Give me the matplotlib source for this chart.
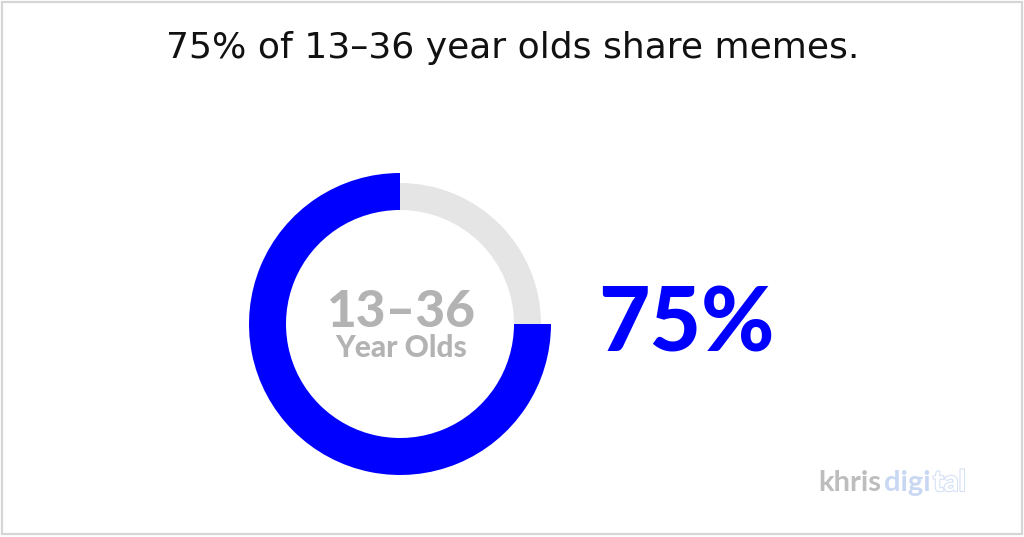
import matplotlib
matplotlib.use("Agg")
import matplotlib.pyplot as plt
import matplotlib.patheffects as pe
from matplotlib.patches import Rectangle

# Data
title = "75% of 13\u201336 year olds share memes."
share_label = "75%"
share_values = [75, 25]
center_line1 = "13\u201336"
center_line2 = "Year Olds"
blue = "#0000FF"
grey_ring = "#E5E5E5"
text_grey = "#B3B3B3"

W, H = 1024, 537
fig = plt.figure(figsize=(W / 100, H / 100), dpi=100)
fig.patch.set_facecolor("white")

# Background axes in pixel coords
bg = fig.add_axes([0, 0, 1, 1])
bg.set_xlim(0, W)
bg.set_ylim(H, 0)
bg.axis("off")
bg.add_patch(Rectangle((2, 2), W - 4, H - 5, fill=False, edgecolor="#D6D6D6", linewidth=1.6))

bg.text(513, 48, title, ha="center", va="center", fontsize=26,
        family="DejaVu Sans", color="#111111")

bg.text(598, 326, share_label, ha="left", va="center", fontsize=64,
        family="Lato", fontweight="black", color=blue)

bg.text(401, 327, center_line1, ha="center", va="baseline", fontsize=37,
        family="Lato", fontweight="black", color=text_grey)
bg.text(401, 357, center_line2, ha="center", va="baseline", fontsize=21.5,
        family="Lato", fontweight="black", color=text_grey)

# Logo
bg.text(818, 483, "khris", ha="left", va="center", fontsize=21,
        family="Lato", fontweight="bold", color="#BDBDBD")
bg.text(884, 483, "digi", ha="left", va="center", fontsize=21,
        family="Lato", fontweight="bold", color="#C9D8F2")
bg.text(933, 483, "tal", ha="left", va="center", fontsize=21,
        family="Lato", fontweight="bold", color="white",
        path_effects=[pe.withStroke(linewidth=1.5, foreground="#D3DFF5")])

# Donut axes
cx, cy, R = 400, 324, 151
ax = fig.add_axes([(cx - R) / W, (H - cy - R) / H, 2 * R / W, 2 * R / H])
r_in = 114
ax.pie(share_values, colors=[blue, "none"], startangle=90, counterclock=True,
       radius=1.0, wedgeprops=dict(width=(R - r_in) / R, linewidth=0))
ax.pie(share_values, colors=["none", grey_ring], startangle=90, counterclock=True,
       radius=141 / R, wedgeprops=dict(width=(141 - r_in) / R, linewidth=0))
ax.set_xlim(-1, 1)
ax.set_ylim(-1, 1)
ax.set_aspect("equal")
ax.axis("off")

fig.savefig("out.png", dpi=100, facecolor="white")
